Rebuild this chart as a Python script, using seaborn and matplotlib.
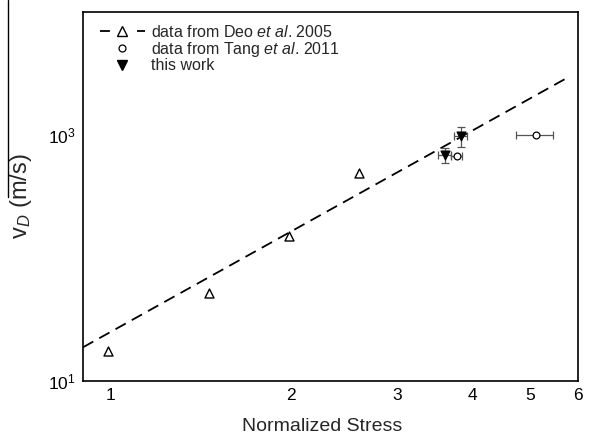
import matplotlib
matplotlib.use("Agg")
import matplotlib.pyplot as plt
import seaborn as sns
from matplotlib.lines import Line2D
from matplotlib.ticker import FixedLocator, NullLocator, NullFormatter

# Deo et al. 2005 (open up-triangles) and the dashed power-law fit through them
deo_stress = [0.99, 1.46, 1.98, 2.59]
deo_velocity = [17.5, 51.6, 152.0, 492.0]
fit_stress = [0.90, 5.70]
fit_velocity = [18.8, 2840.0]

# Tang et al. 2011 (open circles, horizontal error bars)
tang_stress = [3.77, 5.10]
tang_velocity = [676.0, 1000.0]
tang_stress_err = [0.08, 0.36]

# this work (filled down-triangles, error bars in both directions)
work_stress = [3.60, 3.83]
work_velocity = [685.0, 981.0]
work_stress_err = [0.09, 0.095]
work_velocity_err_low = [92.0, 177.0]
work_velocity_err_high = [100.0, 186.0]

x_ticks = [1, 2, 3, 4, 5, 6]
x_tick_labels = ["1", "2", "3", "4", "5", "6"]
y_ticks = [10, 100, 1000]
y_tick_labels = [r"$10^{1}$", "", r"$10^{3}$"]

sns.set_theme(style="white")
plt.rcParams["font.family"] = ["Liberation Sans", "DejaVu Sans"]
plt.rcParams["mathtext.fontset"] = "custom"
plt.rcParams["mathtext.rm"] = "Liberation Sans"
plt.rcParams["mathtext.it"] = "Liberation Sans:italic"
plt.rcParams["mathtext.bf"] = "Liberation Sans:bold"

fig = plt.figure(figsize=(5.93, 4.38), dpi=100)
ax = fig.add_axes([83 / 593, 1 - 381 / 438, 495 / 593, 369 / 438])
ax.set_xscale("log")
ax.set_yscale("log")

fit_dash = (0, (6.5, 3.8))
sns.lineplot(x=fit_stress, y=fit_velocity, ax=ax, color="black", lw=1.3,
             linestyle=fit_dash, sort=False, estimator=None)

ax.errorbar(tang_stress, tang_velocity, xerr=tang_stress_err, fmt="none",
            ecolor="#555555", elinewidth=0.9, capsize=3, capthick=0.9)
ax.errorbar(work_stress, work_velocity, xerr=work_stress_err,
            yerr=[work_velocity_err_low, work_velocity_err_high], fmt="none",
            ecolor="#555555", elinewidth=0.9, capsize=3, capthick=0.9)

sns.scatterplot(x=deo_stress, y=deo_velocity, ax=ax, marker="^", s=42,
                facecolor="white", edgecolor="black", linewidth=1.0, zorder=4)
sns.scatterplot(x=tang_stress, y=tang_velocity, ax=ax, marker="o", s=24,
                facecolor="white", edgecolor="black", linewidth=0.9, zorder=4)
sns.scatterplot(x=work_stress, y=work_velocity, ax=ax, marker="v", s=42,
                facecolor="black", edgecolor="black", linewidth=0.8, zorder=4)

ax.set_xlim(0.9, 6)
ax.set_ylim(10, 10000)
ax.xaxis.set_major_locator(FixedLocator(x_ticks))
ax.set_xticklabels(x_tick_labels)
ax.xaxis.set_minor_locator(FixedLocator([n + k / 9 for n in range(1, 6) for k in range(1, 9)]))
ax.xaxis.set_minor_formatter(NullFormatter())
ax.yaxis.set_major_locator(FixedLocator(y_ticks))
ax.set_yticklabels(y_tick_labels)
ax.yaxis.set_minor_locator(NullLocator())
ax.tick_params(which="both", direction="in", top=False, right=False,
               colors="black", labelsize=12.5)
ax.tick_params(which="major", length=7, width=1.1, pad=5)
ax.tick_params(which="minor", length=3.5, width=1.0)
for side in ax.spines.values():
    side.set_color("black")
    side.set_linewidth(1.2)

ax.set_xlabel("Normalized Stress", fontsize=14)
ax.xaxis.set_label_coords(0.484, -(418 - 381) / 369)
ax.set_ylabel(r"$\mathrm{v}_{\mathit{D}}$ (m/s)", fontsize=17)
ax.yaxis.set_label_coords(-(83 - 34) / 495, 0.5)
# overbar of the velocity symbol
fig.add_artist(Line2D([8 / 593, 8 / 593], [1.0, 1 - 197 / 438],
                      transform=fig.transFigure, color="black", lw=1.0))

handles = [
    Line2D([], [], color="black", lw=1.3, linestyle=(0, (5.5, 15)), marker="^",
           markersize=6.5, markerfacecolor="white", markeredgecolor="black",
           markeredgewidth=1.0),
    Line2D([], [], color="none", marker="o", markersize=5,
           markerfacecolor="white", markeredgecolor="black", markeredgewidth=0.9),
    Line2D([], [], color="none", marker="v", markersize=6.5,
           markerfacecolor="black", markeredgecolor="black"),
]
labels = [r"data from Deo $\mathit{et\ al}$. 2005",
          r"data from Tang $\mathit{et\ al}$. 2011",
          "this work"]
ax.legend(handles, labels, loc="upper left", bbox_to_anchor=(17 / 495, 1 - 12 / 369),
          frameon=False, fontsize=11.5, handlelength=2.8, handletextpad=0.4,
          labelspacing=-0.02, borderpad=0, borderaxespad=0)

fig.savefig("out.png", dpi=100)
